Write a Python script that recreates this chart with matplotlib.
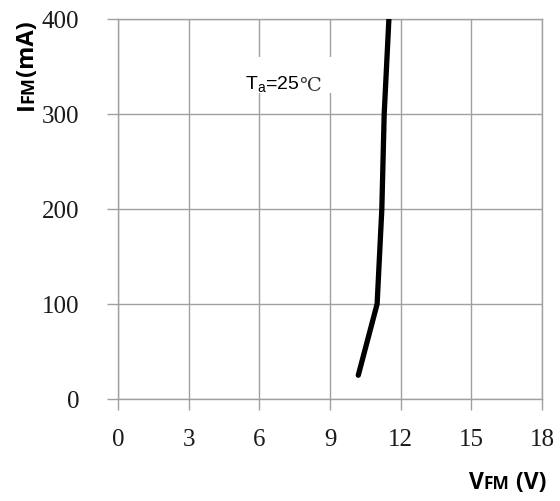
import matplotlib
matplotlib.use("Agg")
import matplotlib.pyplot as plt
from matplotlib.patches import Rectangle
from matplotlib.transforms import IdentityTransform

# forward voltage vs forward current, Ta = 25 C
vfm = [10.2, 11.0, 11.2, 11.3, 11.5]
ifm = [25, 100, 200, 300, 400]

x_ticks = [0, 3, 6, 9, 12, 15, 18]
y_ticks = [0, 100, 200, 300, 400]

plt.rcParams["mathtext.fontset"] = "custom"
plt.rcParams["mathtext.rm"] = "Liberation Sans"

fig = plt.figure(figsize=(5.6, 5.02), dpi=100)
ax = fig.add_axes([0.2107, 0.2032, 0.7572, 0.757])

ax.plot(vfm, ifm, color="black", linewidth=3.8, solid_capstyle="round", zorder=3)

ax.set_xlim(0, 18)
ax.set_ylim(0, 400)
ax.set_xticks(x_ticks)
ax.set_yticks(y_ticks)
ax.grid(color="#a0a0a0", linewidth=1.0)
ax.set_axisbelow(True)
for s in ax.spines.values():
    s.set_color("#a0a0a0")
    s.set_linewidth(1.0)
ax.tick_params(direction="out", length=8, width=1.0, color="#a0a0a0",
               labelsize=18, labelcolor="#1a1a1a")
ax.tick_params(axis="x", pad=13)
ax.tick_params(axis="y", pad=20)
for lab in ax.get_xticklabels() + ax.get_yticklabels():
    lab.set_fontfamily("Liberation Serif")

# white box behind the temperature note
ax.add_patch(Rectangle((5.0, 322), 4.4, 38, facecolor="white", edgecolor="none", zorder=2))
ta = ax.text(5.4, 327, r"T$_{\mathregular{a}}$=25", fontsize=14, family="Liberation Sans",
             ha="left", va="baseline", zorder=4)
ax.annotate("℃", xy=(1, 0), xycoords=ta, xytext=(-0.5, 0), textcoords="offset points",
            fontsize=14, family="DejaVu Serif", color="#333333", ha="left", va="bottom",
            zorder=4)

renderer = fig.canvas.get_renderer()


def chain(pieces, x, y, rotation=0):
    # pieces placed from the far end backwards, right / top aligned
    for txt, size in reversed(pieces):
        t = fig.text(x, y, txt, fontsize=size, fontweight="bold", family="Open Sans",
                     ha="right", va="baseline", rotation=rotation,
                     rotation_mode="anchor", transform=IdentityTransform())
        bb = t.get_window_extent(renderer)
        if rotation == 0:
            x = bb.x0
        else:
            y = bb.y0


chain([("V", 16.5), ("FM", 12.5), (" (V)", 16.5)], 546, 13)
chain([("I", 17), ("FM", 13), ("(mA)", 17)], 33, 482, rotation=90)

fig.savefig("out.png", dpi=100)
